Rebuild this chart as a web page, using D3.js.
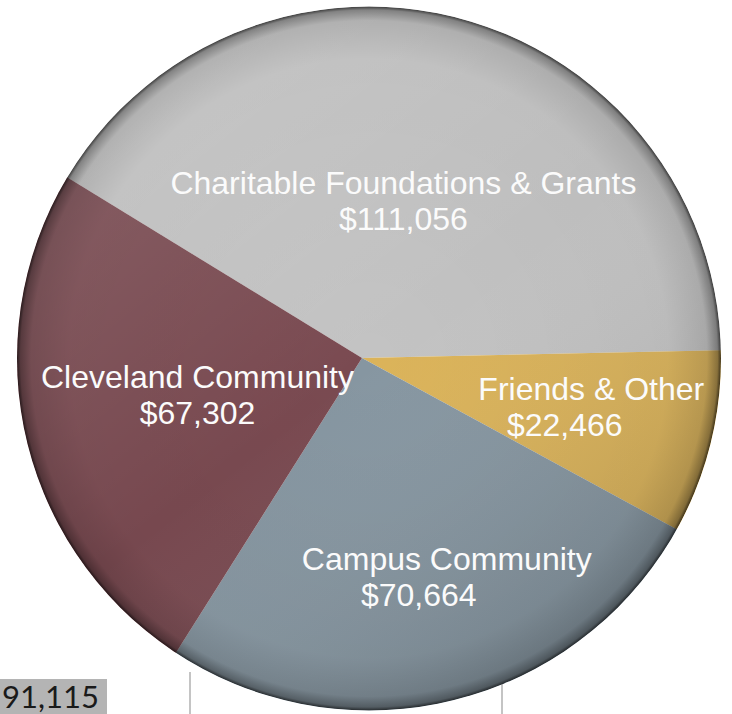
<!DOCTYPE html>
<html>
<head>
<meta charset="utf-8">
<script src="https://cdn.jsdelivr.net/npm/d3@7/dist/d3.min.js"></script>
<style>
  html, body { margin: 0; padding: 0; background: #fff; }
  svg { display: block; }
</style>
</head>
<body>
<svg id="chart" width="732" height="714"></svg>
<script>
// ---- data ----
const categories = ["Charitable Foundations & Grants", "Friends & Other", "Campus Community", "Cleveland Community"];
const values = [111056, 22466, 70664, 67302];
const valueLabels = ["$111,056", "$22,466", "$70,664", "$67,302"];
const colors = ["#c3c3c3", "#dbb359", "#8696a1", "#7a4a51"];
const footerText = "91,115";

// ---- layout ----
const W = 732, H = 714;
const apex = [362, 358];          // where the slices meet
const disc = { cx: 369, cy: 358.5, r: 352 };
const startDeg = -58.5;
const labelR = [151, 237, 245, 171];
const labelNudge = [[2, 0], [-1, 4], [23, -7], [2, 9]];
const line2Dx = [0, -26.5, -28, 0];

const svg = d3.select("#chart");
const defs = svg.append("defs");

defs.append("clipPath").attr("id", "discClip")
  .append("circle").attr("cx", disc.cx).attr("cy", disc.cy).attr("r", disc.r);

const lg = defs.append("linearGradient").attr("id", "light")
  .attr("x1", "0.15").attr("y1", "0.05").attr("x2", "0.85").attr("y2", "0.95");
lg.append("stop").attr("offset", "0").attr("stop-color", "#fff").attr("stop-opacity", 0.14);
lg.append("stop").attr("offset", "0.5").attr("stop-color", "#fff").attr("stop-opacity", 0);
lg.append("stop").attr("offset", "1").attr("stop-color", "#000").attr("stop-opacity", 0.16);

const rg = defs.append("radialGradient").attr("id", "rim")
  .attr("cx", "0.5").attr("cy", "0.5").attr("r", "0.5");
rg.append("stop").attr("offset", "0").attr("stop-color", "#000").attr("stop-opacity", 0);
rg.append("stop").attr("offset", "0.85").attr("stop-color", "#000").attr("stop-opacity", 0.03);
rg.append("stop").attr("offset", "0.96").attr("stop-color", "#000").attr("stop-opacity", 0.12);
rg.append("stop").attr("offset", "0.99").attr("stop-color", "#000").attr("stop-opacity", 0.35);
rg.append("stop").attr("offset", "1").attr("stop-color", "#000").attr("stop-opacity", 0.7);

// background table fragments
const bg = svg.append("g");
bg.selectAll("line.vl").data([190, 502]).enter().append("line")
  .attr("x1", d => d).attr("x2", d => d).attr("y1", 672).attr("y2", H)
  .attr("stroke", "#c4c4c4").attr("stroke-width", 2);
bg.append("rect").attr("x", 0).attr("y", 679).attr("width", 107).attr("height", H - 679)
  .attr("fill", "#b4b4b4");
bg.append("text").attr("x", 2).attr("y", 708)
  .attr("font-family", "Lato, 'Open Sans', sans-serif").attr("font-size", 31)
  .attr("fill", "#1a1a1a").text(footerText);

// pie
const pie = d3.pie().sort(null).value(d => d)
  .startAngle(startDeg * Math.PI / 180)
  .endAngle(startDeg * Math.PI / 180 + 2 * Math.PI);
const arcs = pie(values);
const arc = d3.arc().innerRadius(0).outerRadius(420);

const g = svg.append("g").attr("clip-path", "url(#discClip)");
g.append("g").attr("transform", `translate(${apex[0]},${apex[1]})`)
  .selectAll("path").data(arcs).enter().append("path")
  .attr("d", arc).attr("fill", (d, i) => colors[i]);

g.append("circle").attr("cx", disc.cx).attr("cy", disc.cy).attr("r", disc.r)
  .attr("fill", "url(#light)");
g.append("circle").attr("cx", disc.cx).attr("cy", disc.cy).attr("r", disc.r)
  .attr("fill", "url(#rim)");

// labels
const lab = svg.append("g").attr("transform", `translate(${apex[0]},${apex[1]})`)
  .attr("font-family", "'Liberation Sans', Arial, Helvetica, sans-serif")
  .attr("font-size", 32).attr("fill", "#fbfbfb").attr("text-anchor", "middle");
arcs.forEach((d, i) => {
  const c = d3.arc().innerRadius(labelR[i]).outerRadius(labelR[i]).centroid(d);
  const x = c[0] + labelNudge[i][0], y = c[1] + labelNudge[i][1];
  lab.append("text").attr("x", x).attr("y", y - 18).text(categories[i]);
  lab.append("text").attr("x", x + line2Dx[i]).attr("y", y + 18).text(valueLabels[i]);
});
</script>
</body>
</html>
